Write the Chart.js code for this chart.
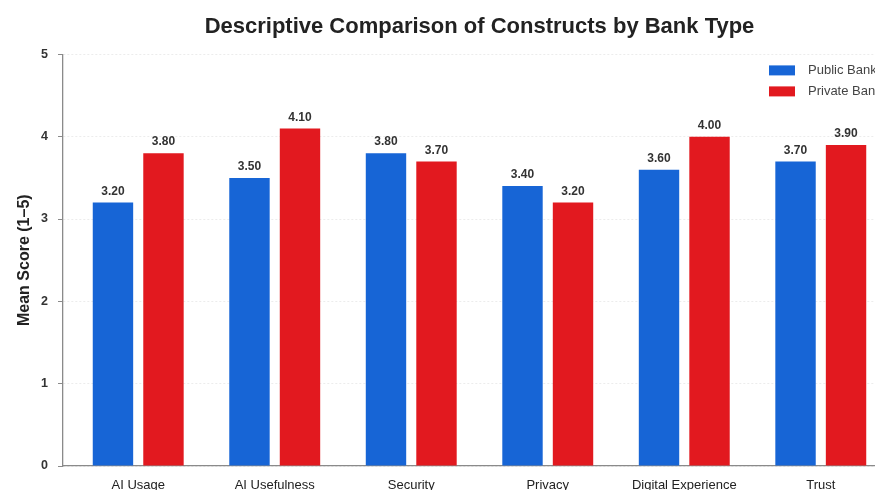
<!DOCTYPE html>
<html>
<head>
<meta charset="utf-8">
<script src="https://cdn.jsdelivr.net/npm/chart.js@4"></script>
<style>
  html, body { margin: 0; padding: 0; background: #fff; overflow: hidden; }
  #wrap { width: 900px; height: 505px; }
</style>
</head>
<body>
<div id="wrap"><canvas id="bankChart" width="900" height="505"></canvas></div>
<script>
    // Constructs and mean scores per bank type
    const constructs = ['AI Usage', 'AI Usefulness', 'Security', 'Privacy', 'Digital Experience', 'Trust'];
    const publicBank = [3.2, 3.5, 3.8, 3.4, 3.6, 3.7];
    const privateBank = [3.8, 4.1, 3.7, 3.2, 4.0, 3.9];
    const seriesNames = ['Public Bank', 'Private Bank'];
    const yTicks = [0, 1, 2, 3, 4, 5];

    const BLUE = '#1765d6';
    const RED = '#e2191f';
    const FONT = "'Liberation Sans', Arial, sans-serif";

    // Numbers printed above every bar
    const valueLabels = {
        id: 'valueLabels',
        afterDatasetsDraw(chart) {
            const ctx = chart.ctx;
            ctx.save();
            ctx.font = 'bold 12px ' + FONT;
            ctx.fillStyle = '#333';
            ctx.textAlign = 'center';
            ctx.textBaseline = 'bottom';
            chart.data.datasets.forEach((ds, di) => {
                chart.getDatasetMeta(di).data.forEach((bar, i) => {
                    ctx.fillText(ds.data[i].y.toFixed(2), bar.x, bar.y - 5);
                });
            });
            ctx.restore();
        }
    };

    // Stacked legend in the upper right corner of the plot
    const cornerLegend = {
        id: 'cornerLegend',
        afterDraw(chart) {
            const ctx = chart.ctx;
            const area = chart.chartArea;
            const x = area.right - 127;
            let y = area.top + 16;
            ctx.save();
            ctx.font = '13px ' + FONT;
            ctx.textBaseline = 'middle';
            chart.data.datasets.forEach(ds => {
                ctx.fillStyle = ds.backgroundColor;
                ctx.fillRect(x, y - 5, 26, 10);
                ctx.fillStyle = '#444';
                ctx.fillText(ds.label, x + 39, y);
                y += 21;
            });
            ctx.restore();
        }
    };

    const toPoints = vals => vals.map((v, i) => ({ x: i, y: v }));

    new Chart(document.getElementById('bankChart'), {
        type: 'bar',
        data: {
            datasets: [{
                label: seriesNames[0],
                data: toPoints(publicBank),
                backgroundColor: BLUE
            }, {
                label: seriesNames[1],
                data: toPoints(privateBank),
                backgroundColor: RED
            }]
        },
        options: {
            responsive: false,
            animation: false,
            devicePixelRatio: 1,
            categoryPercentage: 0.74,
            barPercentage: 0.8,
            layout: { padding: { left: 0, right: 4, top: 0, bottom: 0 } },
            plugins: {
                legend: { display: false },
                tooltip: { enabled: false },
                title: {
                    display: true,
                    fullSize: false,
                    text: 'Descriptive Comparison of Constructs by Bank Type',
                    color: '#222',
                    font: { family: FONT, size: 22, weight: 'bold' },
                    padding: { top: 14, bottom: 14 }
                }
            },
            scales: {
                x: {
                    type: 'linear',
                    offset: false,
                    min: -0.551,
                    max: 5.551,
                    grid: { display: false, drawTicks: false },
                    border: { display: true, color: '#8a8a8a', width: 1.3 },
                    afterBuildTicks(scale) {
                        scale.ticks = constructs.map((_, i) => ({ value: i }));
                    },
                    afterFit(scale) { scale.height = 505 - 466; },
                    ticks: {
                        padding: 12,
                        maxRotation: 0,
                        autoSkip: false,
                        color: '#222',
                        font: { family: FONT, size: 13 },
                        callback: v => constructs[v]
                    }
                },
                y: {
                    min: 0,
                    max: 5,
                    afterBuildTicks(scale) {
                        scale.ticks = yTicks.map(v => ({ value: v }));
                    },
                    afterFit(scale) { scale.width = 63; },
                    grid: {
                        color: '#ececec',
                        tickColor: '#8a8a8a',
                        tickLength: 5,
                        lineWidth: 1
                    },
                    border: { display: true, color: '#8a8a8a', width: 1.3, dash: [2, 2] },
                    ticks: {
                        padding: 10,
                        color: '#333',
                        font: { family: FONT, size: 12.5, weight: 'bold' }
                    },
                    title: {
                        display: true,
                        text: 'Mean Score (1–5)',
                        color: '#222',
                        font: { family: FONT, size: 16, weight: 'bold' },
                        padding: { top: 15, bottom: 0 }
                    }
                }
            }
        },
        plugins: [valueLabels, cornerLegend]
    });
</script>
</body>
</html>
